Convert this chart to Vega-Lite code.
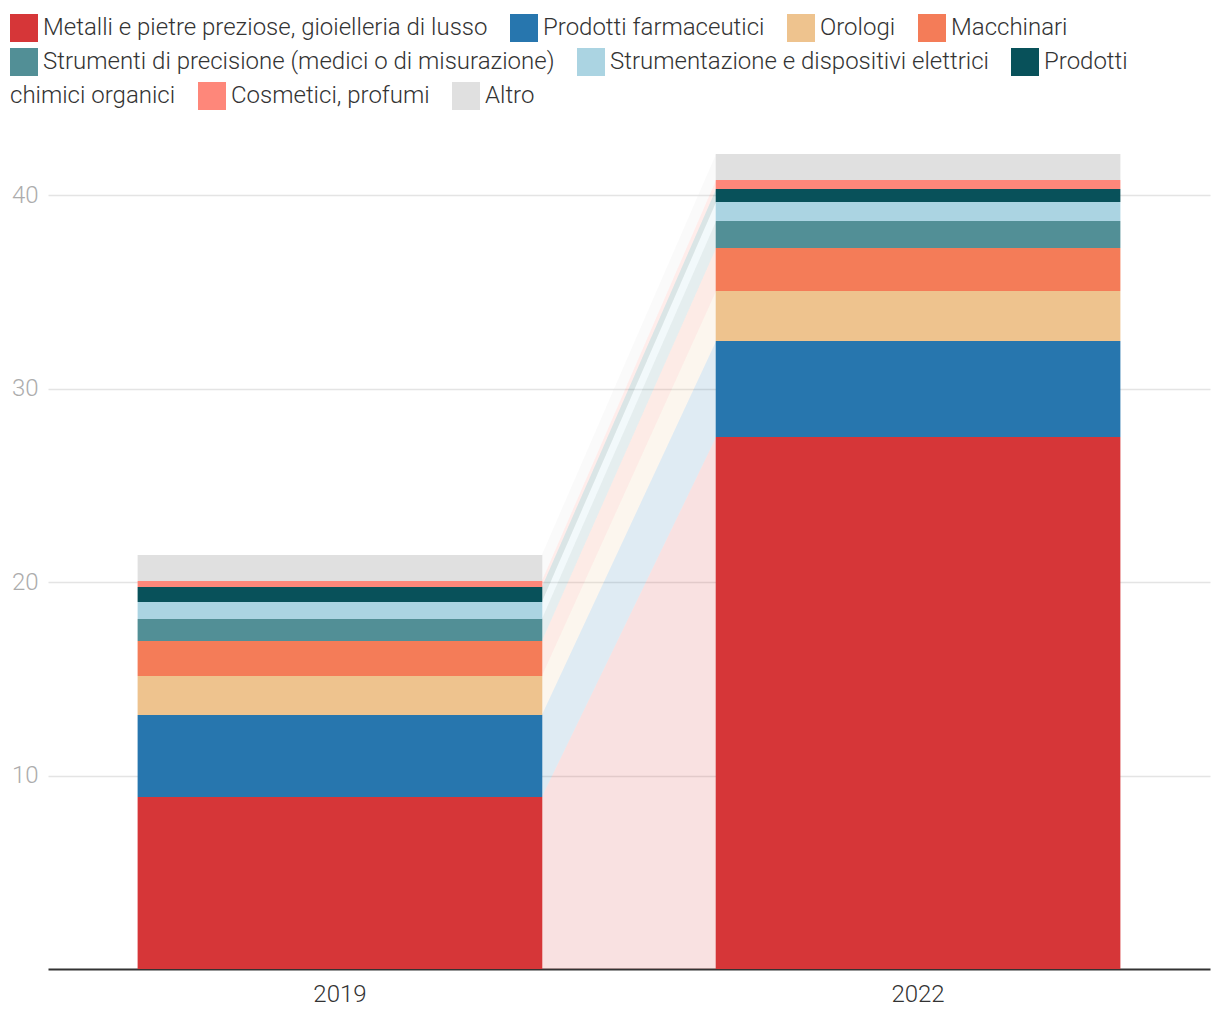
{
  "$schema": "https://vega.github.io/schema/vega-lite/v6.json",
  "width": 1162,
  "height": 815,
  "autosize": {"type": "none"},
  "padding": {"left": 48, "top": 154, "right": 10, "bottom": 51},
  "background": "white",
  "config": {
    "view": {"stroke": null},
    "font": "Roboto",
    "axis": {"labelFont": "Roboto", "labelFontWeight": 300},
    "legend": {
      "labelFont": "Roboto",
      "labelFontWeight": 300,
      "title": null,
      "orient": "none",
      "direction": "horizontal",
      "symbolType": "M-1,-1H1V1H-1Z",
      "symbolSize": 784,
      "symbolStrokeWidth": 0,
      "symbolOpacity": 1,
      "labelFontSize": 24,
      "labelColor": "#333333",
      "labelOffset": 5,
      "labelLimit": 0,
      "columnPadding": 22,
      "rowPadding": 6,
      "padding": 0
    }
  },
  "datasets": {
    "exports": [
      {"year": 2019, "cat": "Metalli e pietre preziose, gioielleria di lusso", "k": 1, "v": 8.89},
      {"year": 2019, "cat": "Prodotti farmaceutici", "k": 2, "v": 4.24},
      {"year": 2019, "cat": "Orologi", "k": 3, "v": 2.01},
      {"year": 2019, "cat": "Macchinari", "k": 4, "v": 1.81},
      {"year": 2019, "cat": "Strumenti di precisione (medici o di misurazione)", "k": 5, "v": 1.14},
      {"year": 2019, "cat": "Strumentazione e dispositivi elettrici", "k": 6, "v": 0.88},
      {"year": 2019, "cat": "Prodotti chimici organici", "k": 7, "v": 0.77},
      {"year": 2019, "cat": "Cosmetici, profumi", "k": 8, "v": 0.31},
      {"year": 2019, "cat": "Altro", "k": 9, "v": 1.35},
      {"year": 2022, "cat": "Metalli e pietre preziose, gioielleria di lusso", "k": 1, "v": 27.49},
      {"year": 2022, "cat": "Prodotti farmaceutici", "k": 2, "v": 4.96},
      {"year": 2022, "cat": "Orologi", "k": 3, "v": 2.59},
      {"year": 2022, "cat": "Macchinari", "k": 4, "v": 2.22},
      {"year": 2022, "cat": "Strumenti di precisione (medici o di misurazione)", "k": 5, "v": 1.40},
      {"year": 2022, "cat": "Strumentazione e dispositivi elettrici", "k": 6, "v": 0.98},
      {"year": 2022, "cat": "Prodotti chimici organici", "k": 7, "v": 0.67},
      {"year": 2022, "cat": "Cosmetici, profumi", "k": 8, "v": 0.47},
      {"year": 2022, "cat": "Altro", "k": 9, "v": 1.34}
    ]
  },
  "data": {"name": "exports"},
  "encoding": {
    "y": {
      "field": "v",
      "type": "quantitative",
      "stack": "zero",
      "scale": {"domain": [0, 42.12], "nice": false},
      "axis": {
        "title": null,
        "values": [10, 20, 30, 40],
        "domain": false,
        "ticks": false,
        "grid": true,
        "gridColor": "#e4e4e4",
        "gridWidth": 1.5,
        "labelColor": "#acacac",
        "labelFontSize": 24,
        "labelPadding": 10
      }
    },
    "order": {"field": "k", "type": "quantitative", "sort": "ascending"}
  },
  "layer": [
    {
      "mark": {"type": "bar", "stroke": null},
      "encoding": {
        "x": {
          "field": "year",
          "type": "ordinal",
          "scale": {"paddingInner": 0.3, "paddingOuter": 0.155},
          "axis": {
            "title": null,
            "labelAngle": 0,
            "ticks": false,
            "domain": true,
            "domainColor": "#333333",
            "domainWidth": 2,
            "labelColor": "#333333",
            "labelFontSize": 24,
            "labelPadding": 13
          }
        },
        "fill": {
          "field": "cat",
          "type": "nominal",
          "scale": {
            "domain": [
              "Metalli e pietre preziose, gioielleria di lusso",
              "Prodotti farmaceutici",
              "Orologi",
              "Macchinari",
              "Strumenti di precisione (medici o di misurazione)",
              "Strumentazione e dispositivi elettrici",
              "Prodotti chimici organici",
              "Cosmetici, profumi",
              "Altro"
            ],
            "range": ["#d63638", "#2776ae", "#eec38e", "#f47c58", "#528f96", "#abd4e2", "#08515a", "#fe877a", "#e0e0e0"]
          },
          "legend": {
            "legendX": -38,
            "legendY": -140,
            "columns": 4,
            "values": [
              "Metalli e pietre preziose, gioielleria di lusso",
              "Prodotti farmaceutici",
              "Orologi",
              "Macchinari"
            ]
          }
        }
      }
    },
    {
      "mark": {"type": "area", "opacity": 0.15, "interpolate": "linear"},
      "encoding": {
        "x": {
          "field": "year",
          "type": "quantitative",
          "scale": {"domain": [2010.5, 2030.5], "nice": false, "zero": false},
          "axis": null
        },
        "fill": {
          "field": "cat",
          "type": "nominal",
          "scale": {
            "domain": [
              "Metalli e pietre preziose, gioielleria di lusso",
              "Prodotti farmaceutici",
              "Orologi",
              "Macchinari",
              "Strumenti di precisione (medici o di misurazione)",
              "Strumentazione e dispositivi elettrici",
              "Prodotti chimici organici",
              "Cosmetici, profumi",
              "Altro"
            ],
            "range": ["#d63638", "#2776ae", "#eec38e", "#f47c58", "#528f96", "#abd4e2", "#08515a", "#fe877a", "#e0e0e0"]
          },
          "legend": {
            "legendX": -38,
            "legendY": -106,
            "columns": 3,
            "labelExpr": "datum.value === 'Prodotti chimici organici' ? 'Prodotti' : datum.label",
            "values": [
              "Strumenti di precisione (medici o di misurazione)",
              "Strumentazione e dispositivi elettrici",
              "Prodotti chimici organici"
            ]
          }
        }
      }
    },
    {
      "mark": {"type": "bar", "opacity": 0, "stroke": null},
      "encoding": {
        "x": {
          "field": "year",
          "type": "ordinal",
          "scale": {"paddingInner": 0.3, "paddingOuter": 0.155},
          "axis": null
        },
        "fill": {
          "field": "cat",
          "type": "nominal",
          "scale": {
            "domain": [
              "Metalli e pietre preziose, gioielleria di lusso",
              "Prodotti farmaceutici",
              "Orologi",
              "Macchinari",
              "Strumenti di precisione (medici o di misurazione)",
              "Strumentazione e dispositivi elettrici",
              "Prodotti chimici organici",
              "Cosmetici, profumi",
              "Altro"
            ],
            "range": ["#d63638", "#2776ae", "#eec38e", "#f47c58", "#528f96", "#abd4e2", "transparent", "#fe877a", "#e0e0e0"]
          },
          "legend": {
            "legendX": -71,
            "legendY": -72,
            "columns": 3,
            "labelExpr": "datum.value === 'Prodotti chimici organici' ? 'chimici organici' : datum.label",
            "values": [
              "Prodotti chimici organici",
              "Cosmetici, profumi",
              "Altro"
            ]
          }
        }
      }
    }
  ],
  "resolve": {"scale": {"x": "independent", "fill": "independent"}, "legend": {"fill": "independent"}}
}
